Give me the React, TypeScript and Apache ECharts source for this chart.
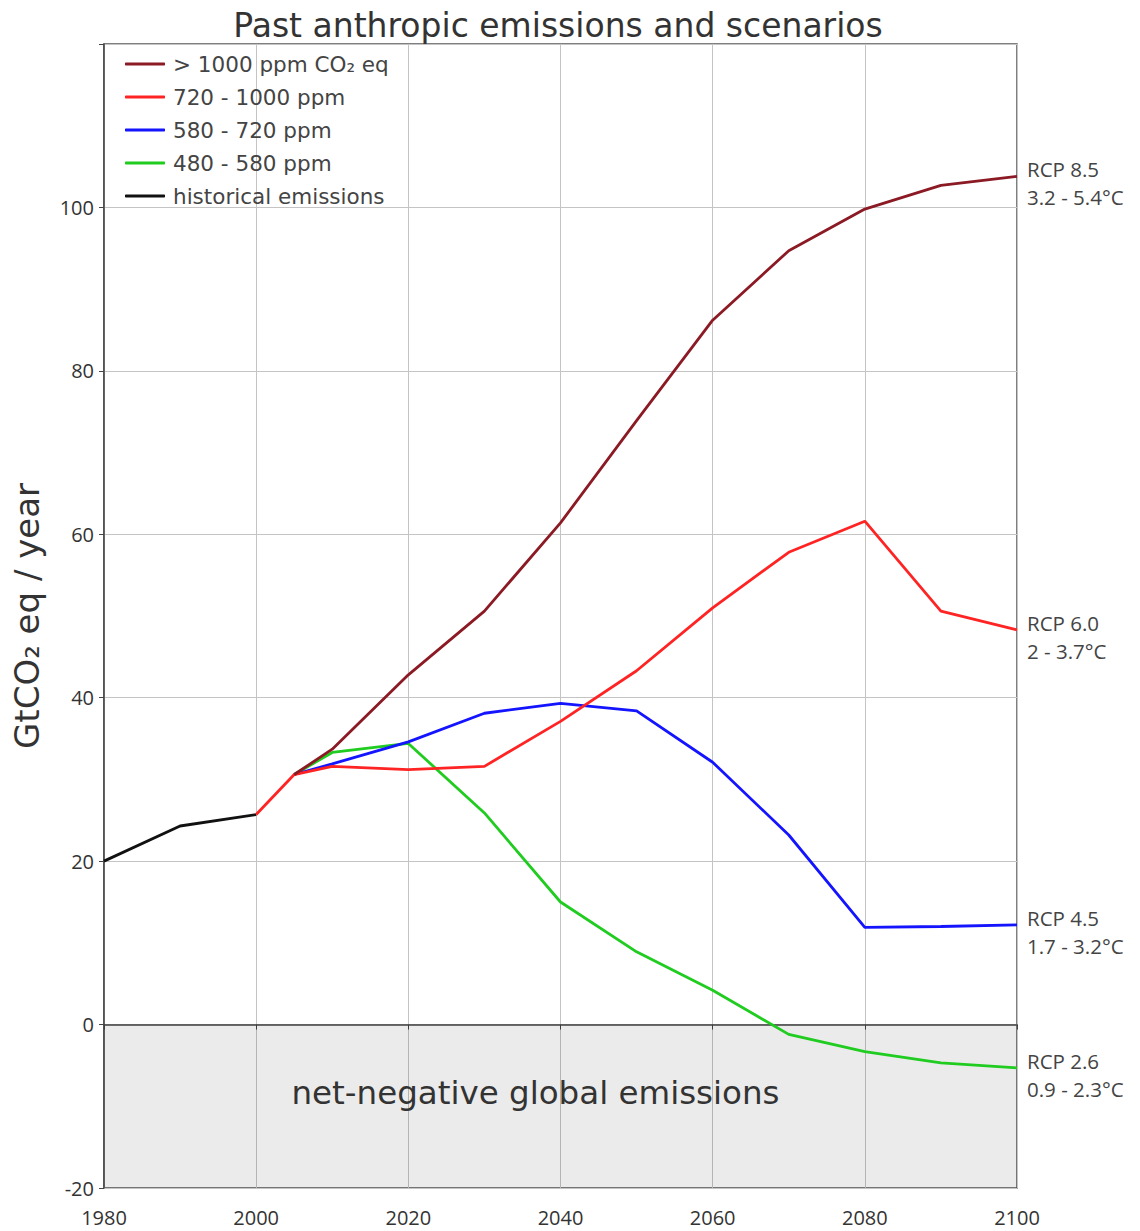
import React, { useEffect, useRef } from "react";
import * as echarts from "echarts";

const historical: [number, number][] = [
  [1980, 20.0],
  [1990, 24.3],
  [2000, 25.7],
];
const scenarioYears = [2005, 2010, 2020, 2030, 2040, 2050, 2060, 2070, 2080, 2090, 2100];
const rcp85 = [30.6, 33.7, 42.8, 50.6, 61.4, 73.9, 86.2, 94.7, 99.8, 102.7, 103.8];
const rcp60 = [30.6, 31.6, 31.2, 31.6, 37.1, 43.3, 51.0, 57.8, 61.6, 50.6, 48.3];
const rcp45 = [30.6, 31.9, 34.6, 38.1, 39.3, 38.4, 32.1, 23.2, 11.9, 12.0, 12.2];
const rcp26 = [30.6, 33.3, 34.4, 25.9, 15.0, 8.9, 4.2, -1.2, -3.3, -4.7, -5.3];
const names = ["> 1000 ppm CO\u2082 eq", "720 - 1000 ppm", "580 - 720 ppm", "480 - 580 ppm", "historical emissions"];
const endLabels = ["RCP 8.5\n3.2 - 5.4°C", "RCP 6.0\n2 - 3.7°C", "RCP 4.5\n1.7 - 3.2°C", "RCP 2.6\n0.9 - 2.3°C"];
const colors = ["#8b1a24", "#ff2424", "#1414ff", "#1fcc1f", "#111111"];
const yTicks = [-20, 0, 20, 40, 60, 80, 100];

const FONT = "'Open Sans', sans-serif";
const WIDE = "'DejaVu Sans', sans-serif";

function pair(vals: number[]): [number, number][] {
  return scenarioYears.map((y, i) => [y, vals[i]]);
}

export default function App() {
  const ref = useRef<HTMLDivElement>(null);
  useEffect(() => {
    if (!ref.current) return;
    const chart = echarts.init(ref.current, null, { renderer: "svg" });
    const endLabel = (text: string) => ({
      show: true,
      formatter: text,
      distance: 10,
      offset: [0, 7],
      fontSize: 20.5,
      lineHeight: 28,
      color: "#444",
      fontFamily: FONT,
    });
    const lineSeries = (name: string, data: [number, number][], color: string, label?: string, z = 3) => ({
      name,
      type: "line",
      data,
      showSymbol: false,
      symbol: "none",
      z,
      lineStyle: { color, width: 2.8 },
      itemStyle: { color },
      endLabel: label ? endLabel(label) : { show: false },
    });
    const red60: [number, number][] = [[2000, historical[2][1]], ...pair(rcp60)];
    chart.setOption({
      animation: false,
      textStyle: { fontFamily: FONT },
      title: {
        text: "Past anthropic emissions and scenarios",
        left: 553,
        textAlign: "center",
        top: 4,
        textStyle: { fontSize: 33, fontWeight: "normal", color: "#333", fontFamily: WIDE },
      },
      legend: {
        orient: "vertical",
        left: 120,
        top: 48,
        itemGap: 11,
        itemWidth: 40,
        itemHeight: 3,
        icon: "roundRect",
        data: names,
        textStyle: { fontSize: 21.5, color: "#444", fontFamily: WIDE, padding: [0, 0, 0, 3] },
      },
      grid: {
        left: 104,
        right: 123,
        top: 44,
        bottom: 43,
        show: true,
        borderColor: "#555",
        borderWidth: 1.5,
        containLabel: false,
      },
      xAxis: {
        type: "value",
        min: 1980,
        max: 2100,
        interval: 20,
        axisLine: { show: true, lineStyle: { color: "#444", width: 1.5 } },
        axisTick: { show: true, length: 5, lineStyle: { color: "#444" } },
        axisLabel: { fontSize: 20, color: "#333", margin: 19, fontFamily: FONT, formatter: (v: number) => String(v) },
        splitLine: { show: true, lineStyle: { color: "#c4c4c4", width: 1 } },
      },
      yAxis: {
        type: "value",
        min: -20,
        max: 120,
        interval: 20,
        name: "GtCO\u2082 eq / year",
        nameLocation: "middle",
        nameGap: 60,
        nameTextStyle: { fontSize: 34, color: "#333", fontFamily: WIDE },
        axisLine: { show: true, lineStyle: { color: "#444", width: 1.5 } },
        axisTick: { show: true, length: 5, lineStyle: { color: "#444" } },
        axisLabel: {
          fontSize: 20,
          color: "#333",
          margin: 10,
          fontFamily: FONT,
          formatter: (v: number) => (yTicks.indexOf(v) >= 0 ? String(v) : ""),
        },
        splitLine: { show: true, lineStyle: { color: "#c4c4c4", width: 1 } },
      },
      series: [
        {
          ...lineSeries(names[4], historical, colors[4], undefined, 3),
          markArea: {
            silent: true,
            itemStyle: { color: "rgba(0,0,0,0.08)" },
            label: {
              show: true,
              position: "inside",
              offset: [-25, -13],
              fontSize: 32.5,
              color: "#333",
              fontFamily: WIDE,
            },
            data: [[{ yAxis: -20, name: "net-negative global emissions" }, { yAxis: 0 }]],
          },
        },
        lineSeries(names[3], pair(rcp26), colors[3], endLabels[3], 3),
        lineSeries(names[2], pair(rcp45), colors[2], endLabels[2], 4),
        lineSeries(names[1], red60, colors[1], endLabels[1], 5),
        lineSeries(names[0], pair(rcp85), colors[0], endLabels[0], 6),
      ],
    });
    return () => chart.dispose();
  }, []);
  return <div ref={ref} style={{ position: "absolute", left: 0, top: 0, width: 1140, height: 1231 }} />;
}
